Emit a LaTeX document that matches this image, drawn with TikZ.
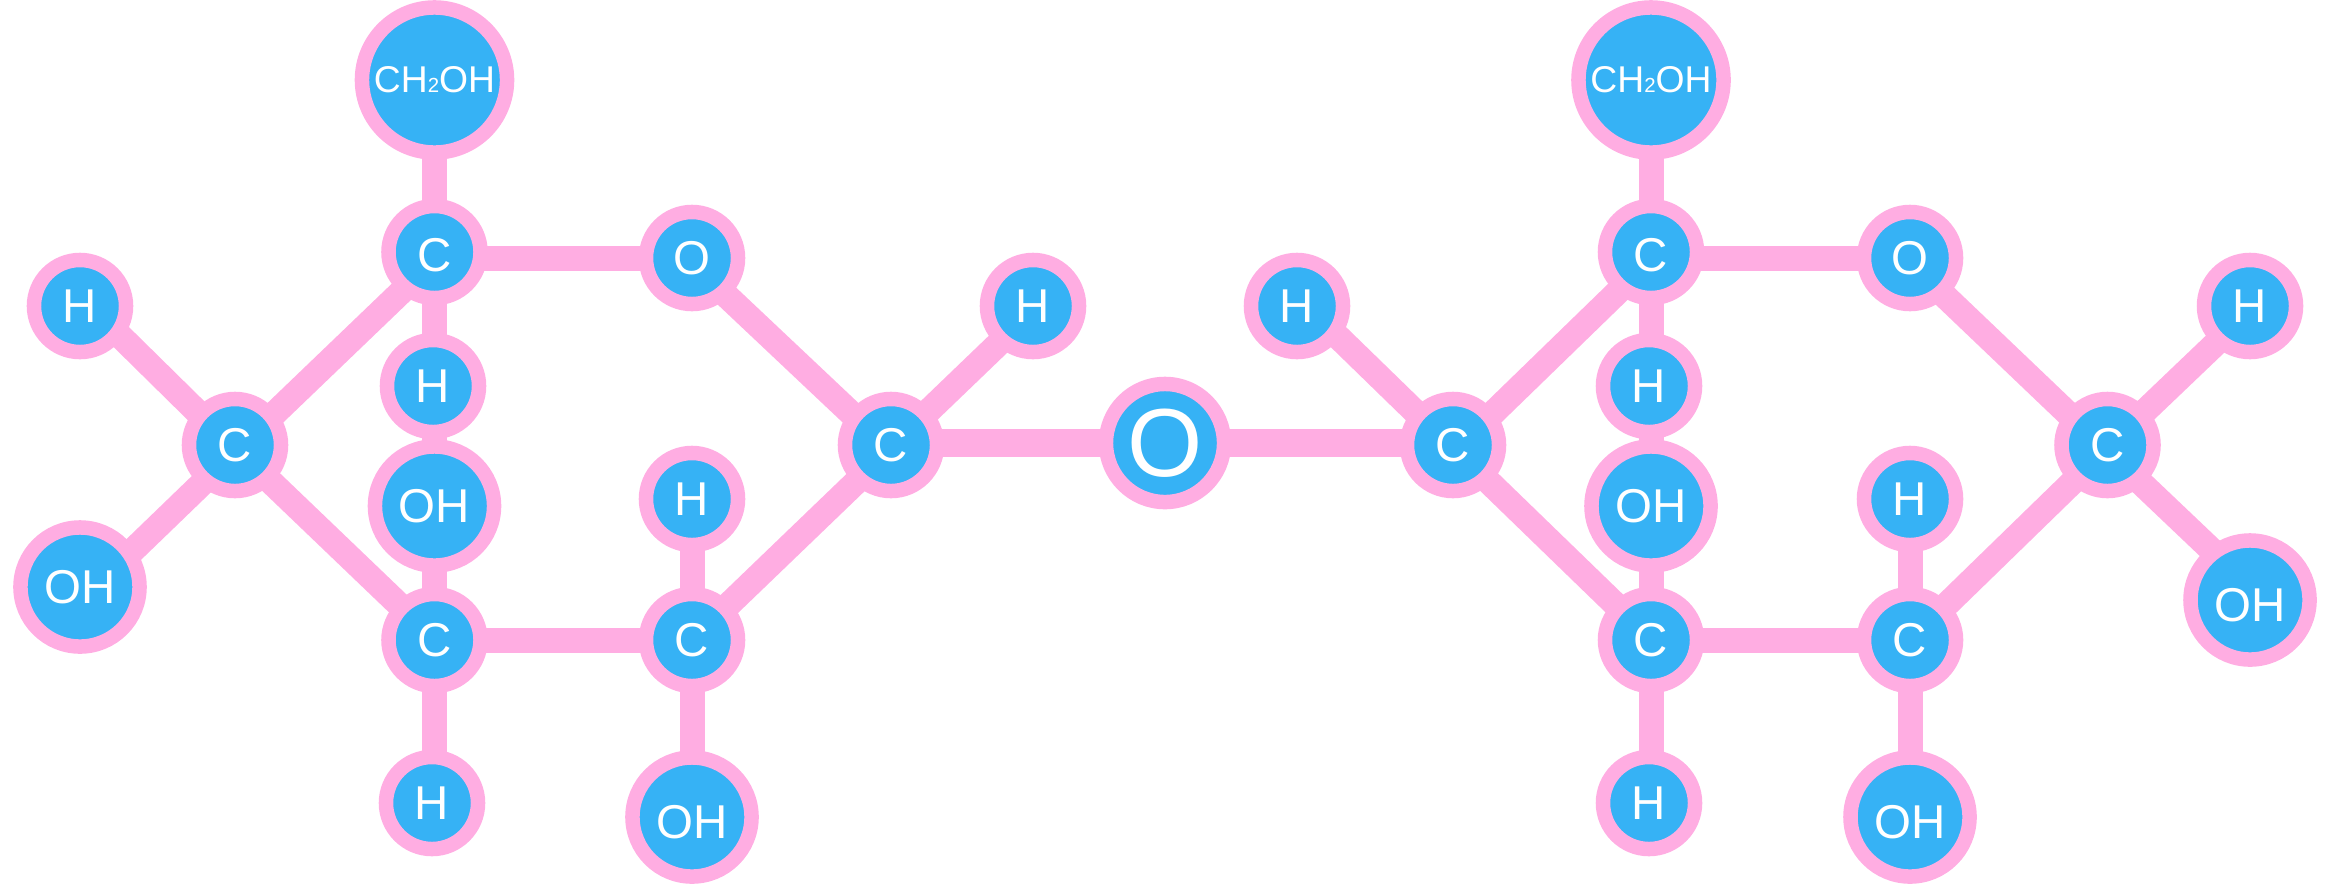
\documentclass[tikz,border=0pt]{standalone}
\usepackage{fontspec}
\setmainfont{Liberation Sans}
\usepackage{xcolor}
\definecolor{bondpink}{HTML}{FFADE2}
\definecolor{atomblue}{HTML}{36B2F5}
\newcommand{\twosub}{{\fontsize{5.8}{7}\selectfont 2}}
\begin{document}
\begin{tikzpicture}[
  x=0.01cm, y=-0.01cm,
  atom/.style={circle, draw=bondpink, fill=atomblue, text=white, line width=0.145cm,
    inner sep=0pt, outer sep=0pt, minimum size=0.92cm, font=\fontsize{13.5}{16}\selectfont},
  hydroxyl/.style={atom, minimum size=1.19cm},
  methanol/.style={atom, minimum size=1.45cm, font=\fontsize{10.6}{12}\selectfont},
  bridge/.style={atom, minimum size=1.18cm, font=\fontsize{27.5}{30}\selectfont},
  lowtext/.style={text height=0.44cm},
  bond/.style={line width=0.25cm, bondpink},
  thickbond/.style={bond, line width=0.287cm}
]
\useasboundingbox (0,0) rectangle (2327,884);
% left ring
\node[methanol] (ch2a) at (434.5,80) {CH\twosub OH};
\node[atom, text height=0.40cm] (cta) at (434.5,252) {C};
\node[atom] (oa) at (692,258) {O};
\node[atom] (hla) at (80,306) {H};
\node[atom] (hma) at (433,386) {H};
\node[atom] (cla) at (235,445) {C};
\node[hydroxyl] (ohla) at (80,587) {OH};
\node[hydroxyl] (ohma) at (434.5,506) {OH};
\node[atom] (hra) at (692,499) {H};
\node[atom] (cba) at (434.5,640) {C};
\node[atom] (cca) at (692,640) {C};
\node[atom] (hba) at (432,803) {H};
\node[hydroxyl, lowtext] (ohba) at (692,817) {OH};
\node[atom] (cra) at (891,445) {C};
\node[atom] (hta) at (1033,306) {H};
% glycosidic oxygen
\node[bridge] (obr) at (1165,443) {O};
% right ring
\node[atom] (clb) at (1453,445) {C};
\node[atom] (hlb) at (1297,306) {H};
\node[methanol] (ch2b) at (1651,80) {CH\twosub OH};
\node[atom, text height=0.40cm] (ctb) at (1651,252) {C};
\node[atom] (ob) at (1910,258) {O};
\node[atom] (hmb) at (1649,386) {H};
\node[hydroxyl] (ohmb) at (1651,506) {OH};
\node[atom] (hrb) at (1910,499) {H};
\node[atom] (cbb) at (1651,640) {C};
\node[atom] (ccb) at (1910,640) {C};
\node[atom] (hbb) at (1649,803) {H};
\node[hydroxyl, lowtext] (ohbb) at (1910,817) {OH};
\node[atom] (crb) at (2107.5,445) {C};
\node[atom] (htb) at (2250,306) {H};
\node[hydroxyl, lowtext] (ohrb) at (2250,600) {OH};
% bonds
\draw[bond] (ch2a) -- (cta);
\draw[bond] (cta.east |- oa) -- (oa);
\draw[bond] (cta.south) -- (cta.south |- hma.north);
\draw[bond] (cta.south |- hma.south) -- (ohma);
\draw[bond] (ohma) -- (cba);
\draw[bond] (hla.-36) -- (cla.139);
\draw[bond] (ohla.34) -- (cla.230);
\draw[bond] (cla.38) -- (cta.231);
\draw[bond] (cla.-46) -- (cba.135);
\draw[bond] (cba) -- (cca);
\draw[bond] (cba.south) -- (cba.south |- hba.north);
\draw[bond] (cca) -- (hra);
\draw[bond] (cca) -- (ohba);
\draw[bond] (cca.44) -- (cra.227);
\draw[bond] (oa.-48) -- (cra.142);
\draw[bond] (cra.42) -- (hta.228);
\draw[thickbond] (cra.east |- obr) -- (obr);
\draw[thickbond] (obr) -- (clb.west |- obr);
\draw[bond] (clb.139) -- (hlb.-36);
\draw[bond] (clb.38) -- (ctb.231);
\draw[bond] (clb.-46) -- (cbb.135);
\draw[bond] (ch2b) -- (ctb);
\draw[bond] (ctb.east |- ob) -- (ob);
\draw[bond] (ctb.south) -- (ctb.south |- hmb.north);
\draw[bond] (ctb.south |- hmb.south) -- (ohmb);
\draw[bond] (ohmb) -- (cbb);
\draw[bond] (cbb) -- (ccb);
\draw[bond] (cbb.south) -- (cbb.south |- hbb.north);
\draw[bond] (ccb) -- (hrb);
\draw[bond] (ccb) -- (ohbb);
\draw[bond] (ccb.44) -- (crb.227);
\draw[bond] (ob.-48) -- (crb.142);
\draw[bond] (crb.42) -- (htb.228);
\draw[bond] (crb.-49) -- (ohrb.127);
\end{tikzpicture}
\end{document}
